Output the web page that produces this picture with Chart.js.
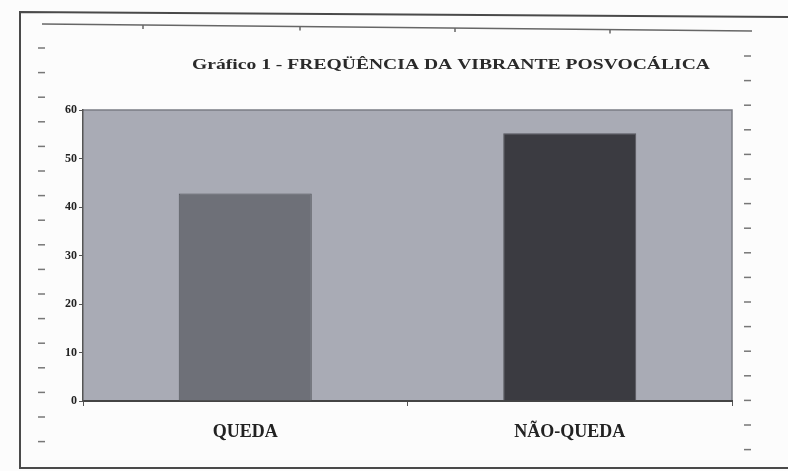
<!DOCTYPE html>
<html>
<head>
<meta charset="utf-8">
<script src="https://cdn.jsdelivr.net/npm/chart.js@4"></script>
<style>
html,body{margin:0;padding:0;background:#fcfcfc;}
#wrap{position:relative;width:788px;height:471px;}
</style>
</head>
<body>
<div id="wrap"><canvas id="c" width="788" height="471"></canvas></div>
<script>
const categories = ["QUEDA", "NÃO-QUEDA"];
const values = [42.8, 55.2];
const barColors = ["#6e7078", "#3b3b41"];
const yTicks = [0, 10, 20, 30, 40, 50, 60];
const titleText = "Gráfico 1 - FREQÜÊNCIA DA VIBRANTE POSVOCÁLICA";

const decor = {
  id: 'decor',
  beforeDraw(chart) {
    const ctx = chart.ctx, a = chart.chartArea;
    ctx.save();
    ctx.fillStyle = '#fcfcfc';
    ctx.fillRect(0, 0, chart.width, chart.height);
    ctx.strokeStyle = '#4a4a4a';
    ctx.lineWidth = 2;
    ctx.beginPath();
    ctx.moveTo(790, 17); ctx.lineTo(20, 12); ctx.lineTo(20, 468); ctx.lineTo(790, 468);
    ctx.stroke();
    ctx.strokeStyle = '#666';
    ctx.lineWidth = 1.5;
    ctx.beginPath();
    ctx.moveTo(42, 24); ctx.lineTo(752, 31);
    ctx.stroke();
    [143, 300, 455, 610].forEach((x) => {
      const y = 24 + (x - 42) * 7 / 710;
      ctx.beginPath(); ctx.moveTo(x, y); ctx.lineTo(x, y + 4); ctx.stroke();
    });
    ctx.strokeStyle = '#777';
    for (let y = 48; y <= 445; y += 24.6) {
      ctx.beginPath(); ctx.moveTo(38, y); ctx.lineTo(45, y); ctx.stroke();
    }
    for (let y = 56; y <= 450; y += 24.6) {
      ctx.beginPath(); ctx.moveTo(744, y); ctx.lineTo(751, y); ctx.stroke();
    }
    ctx.fillStyle = '#a9abb5';
    ctx.fillRect(a.left, a.top, a.right - a.left, a.bottom - a.top);
    ctx.strokeStyle = '#7a7c84';
    ctx.lineWidth = 1.5;
    ctx.beginPath();
    ctx.moveTo(a.left, a.top); ctx.lineTo(a.right, a.top); ctx.lineTo(a.right, a.bottom);
    ctx.stroke();
    ctx.restore();
  },
  afterDraw(chart) {
    const ctx = chart.ctx;
    ctx.save();
    ctx.fillStyle = '#2a2a2a';
    ctx.font = "bold 14px 'Liberation Serif', serif";
    ctx.textAlign = 'center';
    ctx.textBaseline = 'middle';
    ctx.translate(451, 65);
    ctx.scale(1.4, 1);
    ctx.fillText(titleText, 0, 0);
    ctx.restore();
  }
};

new Chart(document.getElementById('c'), {
  type: 'bar',
  data: {
    labels: categories,
    datasets: [{
      data: values,
      backgroundColor: barColors,
      borderColor: '#55565c',
      borderWidth: 1,
      barPercentage: 0.41,
      categoryPercentage: 1.0
    }]
  },
  options: {
    responsive: false,
    animation: false,
    devicePixelRatio: 1,
    layout: { padding: { left: 0, right: 56, top: 110, bottom: 0 } },
    plugins: { legend: { display: false }, tooltip: { enabled: false }, title: { display: false } },
    scales: {
      x: {
        grid: { display: true, drawOnChartArea: false, drawTicks: true, tickLength: 5, color: '#555', offset: true },
        border: { display: true, color: '#444', width: 2 },
        ticks: { color: '#222', padding: 16, font: { family: "'Liberation Serif', serif", weight: 'bold', size: 18 } },
        afterFit(s) { s.height = 70; }
      },
      y: {
        min: 0, max: 60,
        afterBuildTicks(s) { s.ticks = yTicks.map(v => ({ value: v })); },
        grid: { display: true, drawOnChartArea: false, drawTicks: true, tickLength: 4, color: '#555' },
        border: { display: true, color: '#555', width: 1.5 },
        ticks: { color: '#222', padding: 2, font: { family: "'Liberation Serif', serif", weight: 'bold', size: 12 } },
        afterFit(s) { s.width = 83; }
      }
    }
  },
  plugins: [decor]
});
</script>
</body>
</html>
